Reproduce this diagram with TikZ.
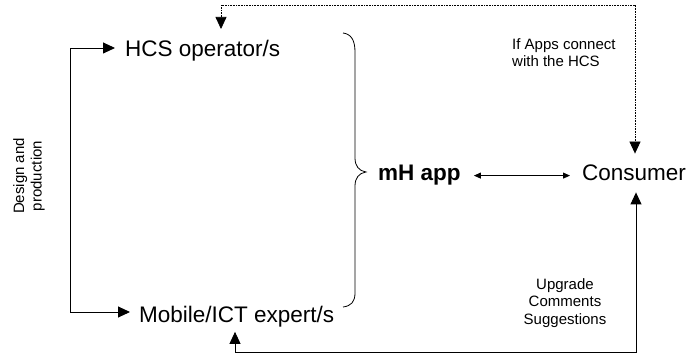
\documentclass[tikz,border=0pt]{standalone}
\usepackage{fontspec}
\setmainfont{Liberation Sans}
\usetikzlibrary{arrows.meta,calc}
\tikzset{
  bigtext/.style={inner sep=0pt, font=\fontsize{22.5}{27}\selectfont},
  bigbold/.style={inner sep=0pt, font=\fontsize{22.5}{27}\selectfont\bfseries},
  smalltext/.style={inner sep=0pt, font=\fontsize{15}{17.5}\selectfont},
  conn/.style={line width=0.9pt},
  tip/.style={-{Triangle[length=12pt,width=11pt]}},
  bothtip/.style={{Triangle[length=12pt,width=11pt]}-{Triangle[length=12pt,width=11pt]}},
  smalltip/.style={{Triangle[length=7pt,width=6pt]}-{Triangle[length=7pt,width=6pt]}},
  dotline/.style={line width=0.7pt, dash pattern=on 0.8pt off 0.8pt},
}
\begin{document}
\begin{tikzpicture}[x=1pt,y=-1pt]
\useasboundingbox (0,0) rectangle (693,355);

% nodes
\node[bigtext, anchor=base west] (hcs) at (125,57) {HCS operator/s};
\node[bigtext, anchor=base west] (mob) at (139,322) {Mobile/ICT expert/s};
\node[bigbold, anchor=base west] (mh) at (378,181) {mH app};
\node[bigtext, anchor=base west] (cons) at (582,181) {Consumer};

\node[smalltext, rotate=90, align=center] (design) at (29,176) {Design and\\production};
\node[smalltext, anchor=north west, align=left] (ifapps) at (512,38) {If Apps connect\\with the HCS};
\node[smalltext, anchor=north, align=center] (upg) at (565,278) {Upgrade\\Comments\\Suggestions};

% bend coordinates
\coordinate (ltop) at (70,48);
\coordinate (lbot) at (70,312);
\coordinate (dtl) at (221,5);
\coordinate (dtr) at (635,5);
\coordinate (bbl) at (235,352);
\coordinate (bbr) at (636,352);

% design and production arrows
\draw[conn, tip, shorten >=10pt] (lbot) -- (ltop) -- (ltop -| hcs.west);
\draw[conn, tip, shorten >=9pt] (ltop |- lbot) -- (lbot -| mob.west);

% dotted connection
\draw[dotline, bothtip, shorten <=11.5pt, shorten >=11.5pt]
  (hcs.north -| dtl) -- (dtl) -- (dtr) -- (dtr |- cons.north);

% feedback
\draw[conn, bothtip, shorten <=5pt, shorten >=11pt]
  (mob.south -| bbl) -- (bbl) -- (bbr) -- (bbr |- cons.south);

% mH app <-> consumer
\draw[conn, smalltip, shorten <=13pt, shorten >=12pt] (mh.east) -- (mh.east -| cons.west);

% brace
\draw[line width=0.8pt] (343,33) .. controls (351,34) and (355,40) .. (355,52)
  -- (355,158) .. controls (355,166) and (359,171) .. (366,172)
  .. controls (359,173) and (355,178) .. (355,186)
  -- (355,293) .. controls (355,302) and (351,306) .. (343,307);
\end{tikzpicture}
\end{document}
